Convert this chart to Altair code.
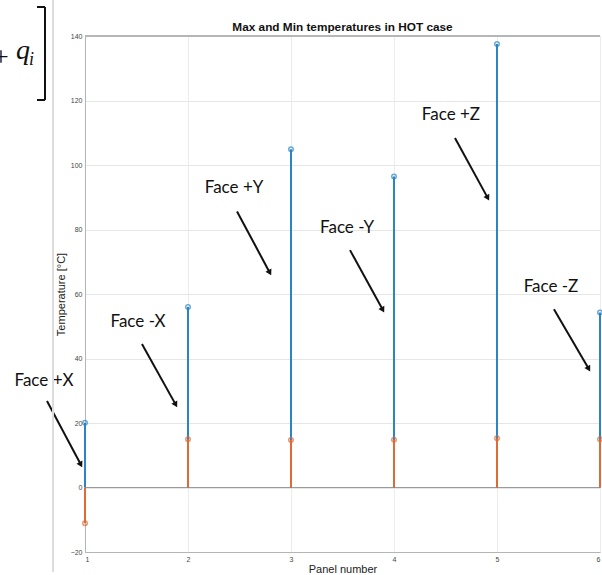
import math
import altair as alt
import pandas as pd

# ---- data ----
panels = [1, 2, 3, 4, 5, 6]
t_max = [20.1, 56.0, 104.9, 96.4, 137.5, 54.3]
t_min = [-11.1, 15.0, 14.7, 14.8, 15.3, 15.0]

y_ticks = [-20, 0, 20, 40, 60, 80, 100, 120, 140]
chart_title = ["Max and Min temperatures in HOT case"]

# annotations (data coordinates)
face_labels = ["Face +X", "Face -X", "Face +Y", "Face -Y", "Face +Z", "Face -Z"]
label_x = [0.602, 1.515, 2.447, 3.544, 4.553, 5.524]
label_y = [33.0, 51.3, 92.9, 80.5, 115.5, 62.2]
arrow_x = [0.631, 1.553, 2.476, 3.573, 4.592, 5.553]
arrow_y = [26.8, 44.5, 85.6, 73.6, 108.4, 55.3]
arrow_x2 = [0.971, 1.893, 2.806, 3.903, 4.922, 5.903]
arrow_y2 = [6.4, 25.0, 65.9, 54.4, 89.1, 36.1]

W, H = 515, 516
XD = [1, 6]
YD = [-20, 140]
px_x = W / (XD[1] - XD[0])
px_y = H / (YD[1] - YD[0])

BLUE = "#2a84c6"
ORANGE = "#df6a33"
FONT = "Liberation Sans"

stems = pd.DataFrame({"panel": panels, "tmax": t_max, "tmin": t_min, "base": [0] * len(panels)})

heads = []
for i in range(len(face_labels)):
    dx = (arrow_x2[i] - arrow_x[i]) * px_x
    dy = (arrow_y[i] - arrow_y2[i]) * px_y
    L = math.hypot(dx, dy)
    ux, uy = dx / L, dy / L
    ang = math.degrees(math.atan2(dx, -dy)) % 360
    heads.append({
        "hx": arrow_x2[i] - 3.5 * ux / px_x,
        "hy": arrow_y2[i] + 3.5 * uy / px_y,
        "lx2": arrow_x2[i] - 4 * ux / px_x,
        "ly2": arrow_y2[i] + 4 * uy / px_y,
        "ang": ang,
    })
ann = pd.DataFrame({
    "label": face_labels, "lx": label_x, "ly": label_y,
    "ax": arrow_x, "ay": arrow_y,
    "hx": [h["hx"] for h in heads], "hy": [h["hy"] for h in heads],
    "lx2": [h["lx2"] for h in heads], "ly2": [h["ly2"] for h in heads],
    "ang": [h["ang"] for h in heads],
})

xs = alt.Scale(domain=XD, nice=False, zero=False)
ys = alt.Scale(domain=YD, nice=False, zero=False)

x_axis = alt.Axis(values=panels, format="d", title="Panel number", labelFontSize=7,
                  labelColor="#444", titleFontSize=11, titleFontWeight="normal",
                  titleColor="#222", labelPadding=3, titlePadding=1, ticks=False,
                  grid=True, gridColor="#ececec", domainColor="#b5b5b5", labelFont=FONT,
                  titleFont=FONT)
y_axis = alt.Axis(values=y_ticks, format="d", title="Temperature [°C]", labelFontSize=7,
                  labelColor="#444", titleFontSize=11, titleFontWeight="normal",
                  titleColor="#222", labelPadding=3, titlePadding=4, ticks=False,
                  grid=True, gridColor="#e6e6e6", domainColor="#b5b5b5", labelFont=FONT,
                  titleFont=FONT)

base = alt.Chart(stems)

grid_layer = base.mark_point(opacity=0).encode(
    x=alt.X("panel:Q", scale=xs, axis=x_axis),
    y=alt.Y("tmax:Q", scale=ys, axis=y_axis),
)

top_border = base.mark_rule(color="#b5b5b5", strokeWidth=1).encode(
    x=alt.value(0), x2=alt.value(W), y=alt.value(0)
)
baseline = base.mark_rule(color="#9a9a9a", strokeWidth=1).encode(
    x=alt.value(0), x2=alt.value(W), y=alt.Y("z:Q", scale=ys)
).transform_calculate(z="0")

blue_stem = base.mark_rule(color=BLUE, strokeWidth=2).encode(
    x=alt.X("panel:Q", scale=xs), y=alt.Y("base:Q", scale=ys), y2="tmax:Q"
)
orange_stem = base.mark_rule(color=ORANGE, strokeWidth=2).encode(
    x=alt.X("panel:Q", scale=xs), y=alt.Y("base:Q", scale=ys), y2="tmin:Q"
)
blue_pt = base.mark_point(shape="circle", filled=False, color=BLUE, size=20, strokeWidth=1.5).encode(
    x=alt.X("panel:Q", scale=xs), y=alt.Y("tmax:Q", scale=ys)
)
orange_pt = base.mark_point(shape="circle", filled=False, color=ORANGE, size=20, strokeWidth=1.5).encode(
    x=alt.X("panel:Q", scale=xs), y=alt.Y("tmin:Q", scale=ys)
)

ann_base = alt.Chart(ann)
labels = ann_base.mark_text(font="Lato", fontSize=17, color="#111", align="center", baseline="middle").encode(
    x=alt.X("lx:Q", scale=xs), y=alt.Y("ly:Q", scale=ys), text="label:N"
)
arrow_lines = ann_base.mark_rule(color="#111", strokeWidth=2).encode(
    x=alt.X("ax:Q", scale=xs), y=alt.Y("ay:Q", scale=ys), x2="lx2:Q", y2="ly2:Q"
)
arrow_heads = ann_base.mark_point(shape="triangle", filled=True, color="#111", size=45, opacity=1).encode(
    x=alt.X("hx:Q", scale=xs), y=alt.Y("hy:Q", scale=ys), angle=alt.Angle("ang:Q", scale=None)
)

title_t = alt.Chart(pd.DataFrame({"t": chart_title})).mark_text(
    font=FONT, fontSize=11.8, fontWeight="bold", color="#111", align="center", baseline="alphabetic"
).encode(x=alt.value(W / 2), y=alt.value(-5), text="t:N")

# decorations outside the axes (pixel offsets relative to plot origin at 85,36)
stray = base.mark_rule(color="#dcdcdc", strokeWidth=1).encode(
    x=alt.value(-32), y=alt.value(-36), y2=alt.value(536)
)
br_v = base.mark_rule(color="#111", strokeWidth=2).encode(
    x=alt.value(-40), y=alt.value(-29), y2=alt.value(64)
)
br_t = base.mark_rule(color="#111", strokeWidth=2).encode(
    x=alt.value(-48), x2=alt.value(-40), y=alt.value(-29)
)
br_b = base.mark_rule(color="#111", strokeWidth=2).encode(
    x=alt.value(-48), x2=alt.value(-40), y=alt.value(64)
)
plus_t = alt.Chart(pd.DataFrame({"t": ["+"]})).mark_text(
    font="Liberation Serif", fontSize=28, color="#111", align="center", baseline="alphabetic"
).encode(x=alt.value(-84), y=alt.value(30), text="t:N")
q_t = alt.Chart(pd.DataFrame({"t": ["q"]})).mark_text(
    font="Liberation Serif", fontStyle="italic", fontSize=28, color="#111", align="left", baseline="alphabetic"
).encode(x=alt.value(-69), y=alt.value(23), text="t:N")
i_t = alt.Chart(pd.DataFrame({"t": ["i"]})).mark_text(
    font="Liberation Serif", fontStyle="italic", fontSize=18, color="#111", align="left", baseline="alphabetic"
).encode(x=alt.value(-56), y=alt.value(29), text="t:N")

chart = alt.layer(
    grid_layer, top_border, baseline, blue_stem, orange_stem, blue_pt, orange_pt,
    arrow_lines, arrow_heads, labels, title_t, stray, br_v, br_t, br_b, plus_t, q_t, i_t
).properties(
    width=W, height=H,
    padding={"left": 85, "top": 36, "right": 2, "bottom": 23},
    autosize=alt.AutoSizeParams(type="none"),
    background="white",
).configure_view(stroke=None)

chart.save("out.html", embed_options={"renderer": "svg", "actions": False})
